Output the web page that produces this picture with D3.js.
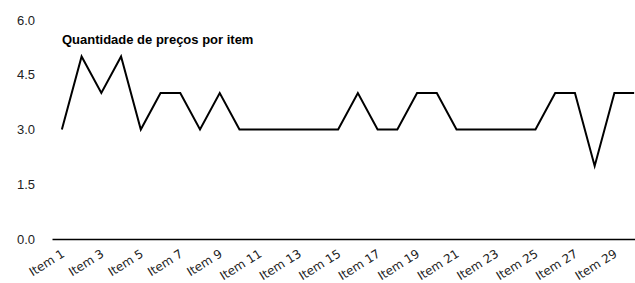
<!DOCTYPE html>
<html>
<head>
<meta charset="utf-8">
<script src="https://cdn.jsdelivr.net/npm/d3@7"></script>
<style>
  body { margin: 0; background: #fff; }
  text { font-family: "Liberation Sans", Arial, sans-serif; }
</style>
</head>
<body>
<div id="vis"></div>
<script>
var width = 635;
var height = 283;

var items = d3.range(1, 31).map(function (i) { return 'Item ' + i; });
var counts = [3, 5, 4, 5, 3, 4, 4, 3, 4, 3,
              3, 3, 3, 3, 3, 4, 3, 3, 4, 4,
              3, 3, 3, 3, 3, 4, 4, 2, 4, 4];
var yTicks = [0, 1.5, 3, 4.5, 6];
var title = 'Quantidade de preços por item';

var svg = d3.select('#vis')
  .append('svg')
  .attr('width', width)
  .attr('height', height);

var x = d3.scalePoint()
  .domain(items)
  .range([52, 644])
  .padding(0.5);

var y = d3.scaleLinear()
  .domain([0, 6])
  .range([239, 20]);

// y labels, no axis line
svg.selectAll('.ylab')
  .data(yTicks)
  .enter().append('text')
  .attr('class', 'ylab')
  .attr('x', 35)
  .attr('y', function (d) { return y(d); })
  .attr('dy', '0.35em')
  .attr('text-anchor', 'end')
  .attr('font-size', 13)
  .attr('fill', '#222')
  .text(function (d) { return d.toFixed(1); });

// x axis
var xAxis = svg.append('g')
  .attr('transform', 'translate(0,' + y(0) + ')')
  .call(d3.axisBottom(x)
    .tickSize(0)
    .tickValues(items.filter(function (d, i) { return i % 2 === 0; })));

xAxis.select('.domain')
  .attr('stroke', '#000')
  .attr('stroke-width', 1.5);

xAxis.selectAll('text')
  .style('font-family', '"DejaVu Sans", sans-serif')
  .style('font-size', '12px')
  .attr('fill', '#222')
  .attr('text-anchor', 'end')
  .attr('dy', null)
  .attr('y', 0)
  .attr('transform', 'translate(3,17) rotate(-32)');

svg.append('path')
  .datum(counts)
  .attr('fill', 'none')
  .attr('stroke', '#000')
  .attr('stroke-width', 2)
  .attr('stroke-linejoin', 'miter')
  .attr('d', d3.line()
    .x(function (d, i) { return x(items[i]); })
    .y(function (d) { return y(d); }));

svg.append('text')
  .attr('x', 62)
  .attr('y', 44)
  .attr('font-size', 13)
  .attr('font-weight', 'bold')
  .attr('fill', '#000')
  .text(title);
</script>
</body>
</html>
